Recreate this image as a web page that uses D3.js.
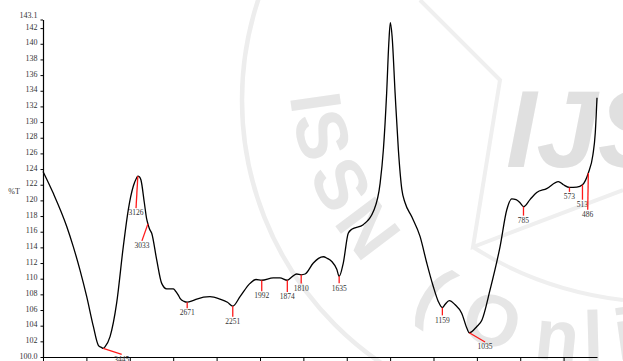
<!DOCTYPE html>
<html>
<head>
<meta charset="utf-8">
<script src="https://cdn.jsdelivr.net/npm/d3@7"></script>
<style>
  html, body { margin: 0; padding: 0; background: #fff; }
  svg { display: block; }
</style>
</head>
<body>
<script>
// FTIR spectrum: wavenumber (cm-1) against transmittance (%T)
const wavenumber = [
  4000, 3905, 3782, 3721, 3659, 3597, 3536, 3490, 3459, 3445, 3429, 3382, 3321, 3260, 3214, 3168,
  3140, 3126, 3110, 3097, 3066, 3044, 3033, 3020, 2998, 2952, 2906, 2860, 2799, 2783, 2753, 2737,
  2700, 2671, 2620, 2583, 2461, 2369, 2300, 2251, 2184, 2092, 2037, 1992, 1939, 1908, 1874, 1850,
  1831, 1810, 1792, 1754, 1730, 1708, 1690, 1669, 1646, 1635, 1616, 1593, 1577, 1524, 1477, 1446,
  1431, 1416, 1406, 1399, 1391, 1377, 1362, 1346, 1331, 1300, 1262, 1231, 1201, 1178, 1159, 1147,
  1127, 1101, 1070, 1045, 1035, 1000, 977, 939, 893, 862, 839, 819, 801, 785, 755, 724,
  678, 624, 601, 573, 539, 513, 486, 465, 454, 446
];
const transmittance = [
  123.7, 120.9, 116.7, 114.1, 111.1, 107.7, 103.9, 101.5, 101.2, 101.1, 101.3, 102.6, 106.9, 114.1, 118.8, 121.8,
  122.8, 123.1, 123.0, 122.6, 119.7, 117.6, 117.0, 116.4, 115.8, 112.4, 109.4, 108.7, 108.7, 108.5, 107.9, 107.5,
  107.1, 107.0, 107.2, 107.4, 107.7, 107.4, 107.0, 106.5, 107.7, 109.4, 109.9, 109.8, 110.1, 110.1, 109.8, 110.3,
  110.6, 110.5, 110.6, 112.0, 112.6, 112.8, 112.6, 112.2, 111.2, 110.3, 112.0, 115.8, 116.3, 116.9, 118.6, 122.2,
  126.5, 133.7, 140.1, 142.7, 141.0, 133.7, 126.5, 121.4, 119.7, 117.9, 115.4, 112.0, 109.0, 107.1, 106.3, 106.7,
  107.2, 106.7, 105.6, 103.6, 103.1, 103.9, 104.7, 108.6, 114.1, 118.8, 120.2, 120.1, 119.7, 119.2, 120.1, 121.0,
  121.5, 122.4, 122.0, 121.65, 121.7, 122.0, 123.5, 125.8, 128.6, 133.1
];

// Marked bands
const peakWavenumbers = [3445, 3126, 3033, 2671, 2251, 1992, 1874, 1810, 1635, 1159, 1035, 785, 573, 513, 486];
const peakLabels = ["3445", "3126", "3033", "2671", "2251", "1992", "1874", "1810", "1635", "1159", "1035", "785", "573", "513", "486"];

// Axis ticks
const xTickValues = [4000, 3600, 3200, 2800, 2400, 2000, 1800, 1600, 1400, 1200, 1000, 800, 600];
const yTickValues = [100, 102, 104, 106, 108, 110, 112, 114, 116, 118, 120, 122, 124, 126, 128, 130, 132, 134, 136, 138, 140, 142, 143.1];
const yTickLabels = ["100.0", "102", "104", "106", "108", "110", "112", "114", "116", "118", "120", "122", "124", "126", "128", "130", "132", "134", "136", "138", "140", "142", "143.1"];

// Leader line offsets (px) from the curve point to the end of each red marker
const leaderOffsets = [
  [18.5, 6], [-1.8, 32], [-6, 17], [0, 6], [0, 10.7], [0, 11], [0, 11.7], [0, 8.6],
  [0, 7], [0, 7.7], [15.8, 9.3], [0, 9], [0, 4.4], [0, 15], [-0.6, 36.7]
];

// Background emblem lettering: glyphs and their angular place on the ring (degrees)
const emblemGlyphs = ["I", "S", "S", "N", "(", "O", "n", "l", "i"];
const emblemAngles = [171.9, 165, 153.9, 143, 123.5, 110.1, 96, 88.5, 82];

const W = 623, H = 361;
const svg = d3.select("body").append("svg").attr("width", W).attr("height", H);

// ---- faint background emblem ----
const wm = svg.append("g").attr("class", "emblem").attr("fill", "none");
wm.append("circle").attr("cx", 560).attr("cy", 100).attr("r", 318)
  .attr("stroke", "#ededed").attr("stroke-width", 4.5);
wm.append("path").attr("d", "M420,0 L500,80 L473,247 L623,190")
  .attr("stroke", "#efefef").attr("stroke-width", 4);
wm.append("path").attr("d", "M473,247 Q540,290 623,300")
  .attr("stroke", "#efefef").attr("stroke-width", 4);

const ringC = [586, 64], ringR = 272;
const letters = svg.append("g")
  .attr("font-family", "'Liberation Sans', Arial, sans-serif")
  .attr("font-weight", "bold")
  .attr("font-size", 72)
  .attr("fill", "#e6e6e6");
emblemGlyphs.forEach((g, i) => {
  const phi = emblemAngles[i] * Math.PI / 180;
  const px = ringC[0] + ringR * Math.cos(phi);
  const py = ringC[1] + ringR * Math.sin(phi);
  letters.append("text")
    .attr("text-anchor", "middle")
    .attr("dy", "0.36em")
    .attr("transform", `translate(${px},${py}) rotate(${emblemAngles[i] - 90})`)
    .text(g);
});
svg.append("text")
  .attr("x", 506).attr("y", 167)
  .attr("font-family", "'Liberation Sans', Arial, sans-serif")
  .attr("font-weight", "bold").attr("font-style", "italic")
  .attr("font-size", 110)
  .attr("fill", "#e0e0e0")
  .text("IJS");

// ---- scales ----
// split wavenumber scale: 4000-2000 compressed, 2000-446 expanded
const x = d3.scaleLinear().domain([4000, 2000, 446]).range([43, 260, 597]);
const y = d3.scaleLinear().domain([100, 143.1]).range([357, 19.5]);

// ---- axes ----
const xAxis = svg.append("g").attr("transform", "translate(0,357)")
  .call(d3.axisBottom(x).tickValues(xTickValues).tickSize(4).tickSizeOuter(0).tickFormat(""));
xAxis.select(".domain").attr("stroke", "#000").attr("stroke-width", 1.2);
xAxis.selectAll(".tick line").attr("stroke", "#000");

const yAxis = svg.append("g").attr("transform", "translate(43,0)")
  .call(d3.axisLeft(y).tickValues(yTickValues).tickSize(2.5).tickSizeOuter(0).tickPadding(3)
    .tickFormat((d, i) => yTickLabels[i]));
yAxis.select(".domain").attr("stroke", "#000").attr("stroke-width", 1.2);
yAxis.selectAll(".tick line").attr("stroke", "#000");
yAxis.selectAll(".tick text")
  .attr("font-family", "'Liberation Serif', 'Times New Roman', serif")
  .attr("font-size", 8)
  .attr("fill", "#333")
  .attr("dy", d => d === 143.1 ? "-0.25em" : "0.15em");

svg.append("text")
  .attr("x", 14).attr("y", 194)
  .attr("text-anchor", "middle")
  .attr("font-family", "'Liberation Serif', 'Times New Roman', serif")
  .attr("font-size", 8)
  .attr("fill", "#333")
  .text("%T");

// ---- spectrum ----
const spectrum = wavenumber.map((w, i) => ({ w, t: transmittance[i] }));
svg.append("path")
  .datum(spectrum)
  .attr("fill", "none")
  .attr("stroke", "#000")
  .attr("stroke-width", 1.3)
  .attr("stroke-linejoin", "round")
  .attr("d", d3.line().x(d => x(d.w)).y(d => y(d.t)).curve(d3.curveMonotoneX));

// transmittance at a given wavenumber
function tAt(w) {
  for (let i = 0; i < wavenumber.length - 1; i++) {
    const w0 = wavenumber[i], w1 = wavenumber[i + 1];
    if (w <= w0 && w >= w1) {
      const f = (w0 - w) / (w0 - w1);
      return transmittance[i] + f * (transmittance[i + 1] - transmittance[i]);
    }
  }
  return transmittance[transmittance.length - 1];
}

// ---- band markers ----
const marks = svg.append("g");
peakWavenumbers.forEach((w, i) => {
  const px = x(w), py = y(tAt(w));
  const [dx, dy] = leaderOffsets[i];
  marks.append("line")
    .attr("x1", px).attr("y1", py)
    .attr("x2", px + dx).attr("y2", py + dy)
    .attr("stroke", "#ff1a1a").attr("stroke-width", 1.3);
  marks.append("text")
    .attr("x", px + dx).attr("y", py + dy + 7.2)
    .attr("text-anchor", "middle")
    .attr("font-family", "'Liberation Serif', 'Times New Roman', serif")
    .attr("font-size", 7.5)
    .attr("fill", "#333")
    .text(peakLabels[i]);
});
</script>
</body>
</html>
